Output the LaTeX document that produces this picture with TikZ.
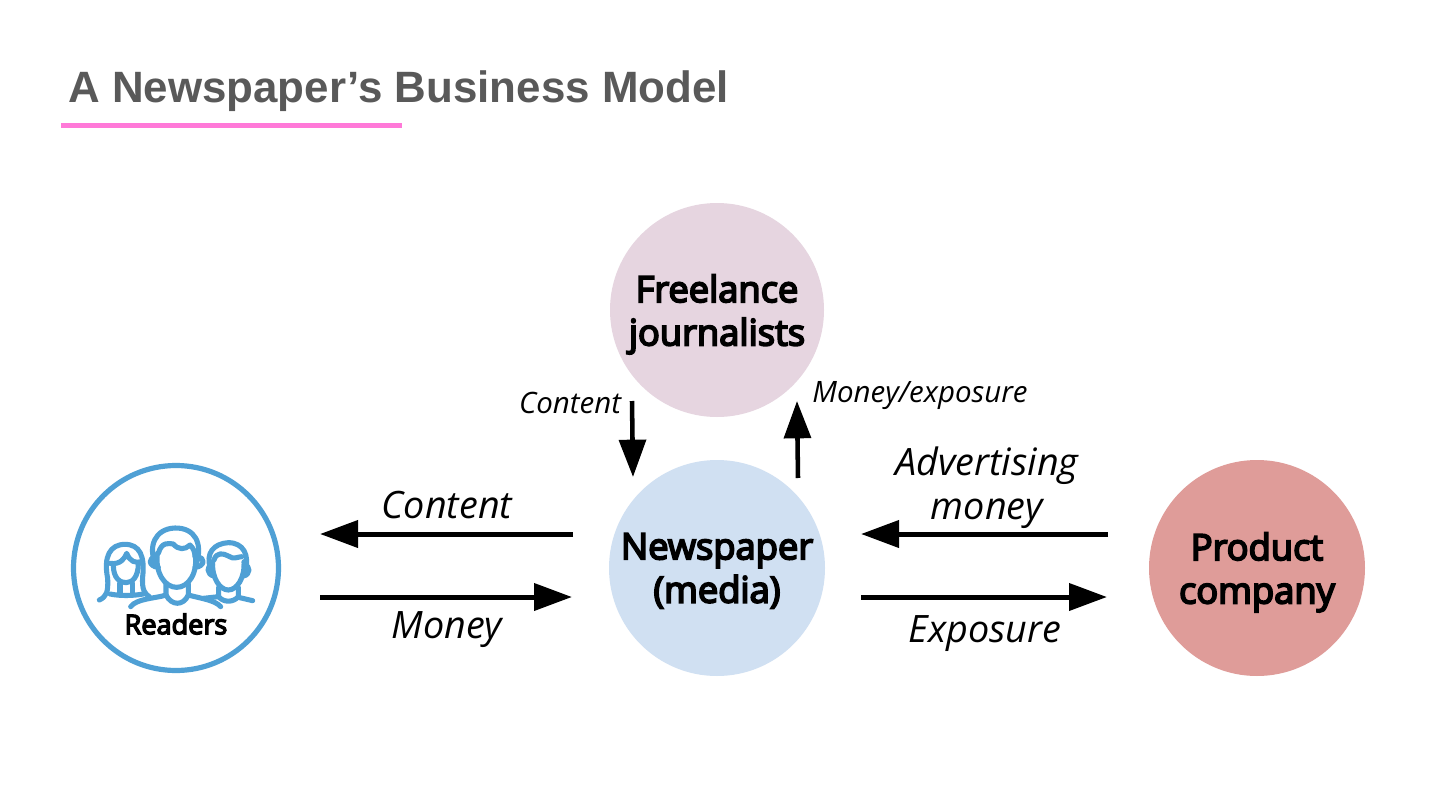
\documentclass[tikz,border=0pt]{standalone}
\usepackage{fontspec}
\setmainfont{Open Sans}
\newfontfamily\titlefont{Liberation Sans}
\newfontfamily\entfont[FakeBold=5]{Open Sans}
\usetikzlibrary{arrows.meta}
\definecolor{titlegray}{HTML}{595959}
\definecolor{pinkbar}{HTML}{FF79D8}
\definecolor{freelancec}{HTML}{E6D5E0}
\definecolor{newsc}{HTML}{D0E0F2}
\definecolor{prodc}{HTML}{DF9C99}
\definecolor{readc}{HTML}{4FA0D5}
\tikzset{
  x=0.75pt,y=-0.75pt,
  flow/.style={line width=3.75pt,-{Triangle[length=28.5pt,width=20pt]}},
  flowsmall/.style={line width=3.4pt,-{Triangle[length=28pt,width=20pt]}},
  disc/.style={circle,inner sep=0pt,minimum size=#1*0.75pt,align=center},
  entity/.style={font=\fontsize{27.2pt}{32.5pt}\selectfont\entfont,text=black,text depth=0pt},
  biglabel/.style={font=\fontsize{28.3pt}{33pt}\selectfont\itshape,text=black,align=center,inner sep=0pt},
  smalllabel/.style={font=\fontsize{22.1pt}{26pt}\selectfont\itshape,text=black,inner sep=0pt},
  icon/.style={draw=readc,line width=3.8pt,line cap=round,line join=round},
}
\begin{document}
\begin{tikzpicture}
\useasboundingbox (0,0) rectangle (1440,810);
\fill[white] (0,0) rectangle (1440,810);
\node[anchor=west,inner sep=0pt,font=\fontsize{32.9pt}{36pt}\selectfont\titlefont\bfseries,text=titlegray] (title) at (68,91) {A Newspaper’s Business Model};
\coordinate (barL) at (61,125.5);
\coordinate (barR) at (402,125.5);
\draw[pinkbar,line width=4.2pt] (barL) -- (barR);

\node[disc=214,fill=freelancec] (free) at (717,310) {};
\node[disc=216,fill=newsc] (news) at (717,568) {};
\node[disc=216,fill=prodc] (prod) at (1257,568) {};
\node[entity,align=center,inner sep=0pt] (freet) at (717,310) {Freelance\\journalists};
\node[entity,align=center,inner sep=0pt] (newst) at (717,568) {Newspaper\\(media)};
\node[entity,align=center,inner sep=0pt] (prodt) at (1257,568) {Product\\company};
\node[disc=205,draw=readc,line width=3.9pt] (read) at (176,568) {};
\node[font=\fontsize{20.3pt}{22pt}\selectfont\entfont,text=black,inner sep=0pt] (readlbl) at (176,624) {Readers};

\begin{scope}[shift={(60,450)},x=0.25pt,y=-0.25pt]
  % left head
  \draw[icon] (118,450) .. controls (140,440) and (145,425) .. (143,385) .. controls (130,320) and (150,283) .. (195,283) .. controls (240,283) and (255,320) .. (248,380) .. controls (245,420) and (255,432) .. (268,440);
  \draw[icon] (150,340) .. controls (180,345) and (195,325) .. (200,310) .. controls (210,335) and (225,340) .. (245,335);
  \draw[icon] (160,345) .. controls (160,385) and (180,398) .. (198,398) .. controls (218,398) and (235,380) .. (235,340);
  \draw[icon] (180,400) -- (180,432) (218,400) -- (218,432);
  \draw[icon] (150,432) .. controls (180,438) and (215,438) .. (250,432);
  % centre head
  \draw[icon] (288,345) .. controls (262,290) and (285,236) .. (345,234) .. controls (405,233) and (430,280) .. (408,345);
  \draw[icon] (295,310) .. controls (305,275) and (325,280) .. (340,282) .. controls (355,300) and (375,300) .. (390,285) .. controls (400,295) and (405,305) .. (405,320);
  \draw[icon] (292,310) .. controls (285,370) and (315,412) .. (350,412) .. controls (385,412) and (415,370) .. (405,310);
  \draw[icon] (290,322) .. controls (262,320) and (265,350) .. (295,352);
  \draw[icon] (410,322) .. controls (438,320) and (435,350) .. (405,352);
  \draw[icon] (318,402) -- (318,435) .. controls (290,445) and (230,445) .. (212,470);
  \draw[icon] (385,402) -- (385,435) .. controls (420,445) and (465,450) .. (482,470);
  \draw[icon] (318,435) .. controls (335,468) and (370,468) .. (385,435);
  % right head
  \draw[icon] (452,355) .. controls (435,310) and (462,280) .. (505,278) .. controls (550,278) and (570,315) .. (555,365);
  \draw[icon] (462,330) .. controls (470,305) and (490,310) .. (505,318) .. controls (520,330) and (535,320) .. (545,320);
  \draw[icon] (458,335) .. controls (455,385) and (480,420) .. (505,420) .. controls (530,420) and (555,385) .. (552,335);
  \draw[icon] (552,345) .. controls (572,345) and (572,375) .. (550,378);
  \draw[icon] (458,345) .. controls (438,345) and (440,375) .. (462,378);
  \draw[icon] (476,412) -- (476,440) .. controls (490,458) and (520,458) .. (535,440) -- (535,412);
  \draw[icon] (535,442) -- (578,452);
  \draw[icon] (430,445) -- (476,440);
\end{scope}

% connectors
\coordinate (a1s) at (573,534); \coordinate (a1e) at (320,534);
\coordinate (a2s) at (320,597); \coordinate (a2e) at (572,597);
\coordinate (a3s) at (1108,534); \coordinate (a3e) at (861,534);
\coordinate (a4s) at (861,597); \coordinate (a4e) at (1107,597);
\coordinate (a5s) at (632,401); \coordinate (a5e) at (633,477);
\coordinate (a6s) at (798,478); \coordinate (a6e) at (797,401);
\draw[flow] (a1s) -- (a1e);
\draw[flow] (a2s) -- (a2e);
\draw[flow] (a3s) -- (a3e);
\draw[flow] (a4s) -- (a4e);
\draw[flowsmall] (a5s) -- (a5e);
\draw[flowsmall] (a6s) -- (a6e);

\node[biglabel] (l1) at (447,505) {Content};
\node[biglabel] (l2) at (447,630) {Money};
\node[biglabel] (l3) at (987,488) {Advertising\\money};
\node[biglabel] (l4) at (985,634) {Exposure};
\node[smalllabel] (l5) at (570,403) {Content};
\node[smalllabel] (l6) at (920,396) {Money/exposure};
\end{tikzpicture}
\end{document}
